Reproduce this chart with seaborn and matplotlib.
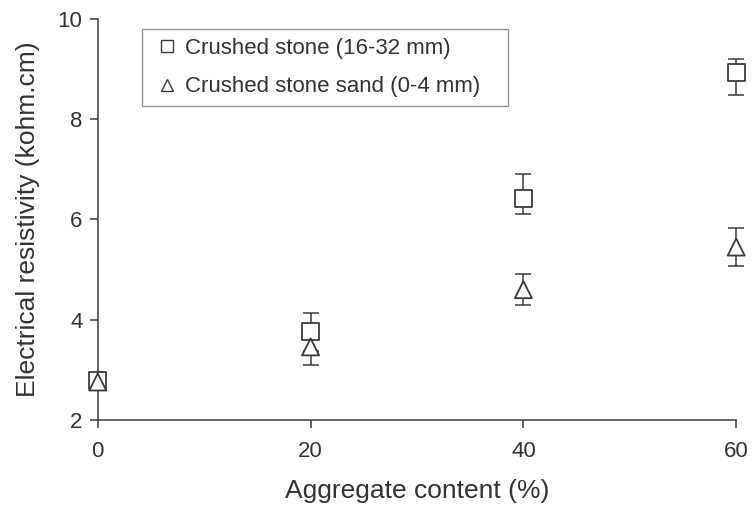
import numpy as np
import pandas as pd
import matplotlib
matplotlib.use("Agg")
import matplotlib.pyplot as plt
import seaborn as sns
from matplotlib.lines import Line2D

# Aggregate content (%)
content = [0, 20, 40, 60]

# Crushed stone (16-32 mm)
stone_mean = [2.78, 3.76, 6.41, 8.93]
stone_err_low = [0.0, 0.38, 0.30, 0.44]
stone_err_high = [0.0, 0.38, 0.50, 0.26]

# Crushed stone sand (0-4 mm)
sand_mean = [2.76, 3.46, 4.60, 5.45]
sand_err_low = [0.0, 0.36, 0.30, 0.38]
sand_err_high = [0.0, 0.30, 0.31, 0.38]

series_names = ["Crushed stone (16-32 mm)", "Crushed stone sand (0-4 mm)"]
x_ticks = [0, 20, 40, 60]
y_ticks = [2, 4, 6, 8, 10]

sns.set_theme(style="ticks")
plt.rcParams["font.family"] = ["Liberation Sans", "DejaVu Sans"]

ink = "#3a3a3a"
text_color = "#333333"

df = pd.DataFrame({
    "content": content * 2,
    "resistivity": stone_mean + sand_mean,
    "series": [series_names[0]] * 4 + [series_names[1]] * 4,
})

fig = plt.figure(figsize=(7.52, 5.08), dpi=100)
ax = fig.add_axes([0.130, 0.173, 0.849, 0.790])

# error bars beneath the markers
for mean, lo, hi in [(stone_mean, stone_err_low, stone_err_high),
                     (sand_mean, sand_err_low, sand_err_high)]:
    lo_a, hi_a = np.array(lo), np.array(hi)
    mask = (lo_a + hi_a) > 0
    eb = ax.errorbar(np.array(content)[mask], np.array(mean)[mask],
                     yerr=[lo_a[mask], hi_a[mask]], fmt="none", ecolor=ink,
                     elinewidth=1.1, capsize=6, capthick=1.1, zorder=1)
    for art in eb.lines[1] + eb.lines[2]:
        art.set_clip_on(False)

sns.scatterplot(data=df, x="content", y="resistivity", style="series",
                markers={series_names[0]: "s", series_names[1]: "^"},
                s=150, facecolor="white", edgecolor=ink, linewidth=1.3,
                color="white", legend=False, ax=ax, zorder=3, clip_on=False)

ax.set_xlim(0, 60)
ax.set_ylim(2, 10)
ax.set_xticks(x_ticks)
ax.set_yticks(y_ticks)
ax.set_xlabel("Aggregate content (%)", fontsize=19, color=text_color, labelpad=12)
ax.set_ylabel("Electrical resistivity (kohm.cm)", fontsize=19, color=text_color, labelpad=13)
ax.tick_params(axis="both", labelsize=16, colors=ink, labelcolor=text_color,
               length=6, width=1.1, direction="out", pad=5)
ax.tick_params(axis="x", pad=9)
for side in ["top", "right"]:
    ax.spines[side].set_visible(False)
for side in ["left", "bottom"]:
    ax.spines[side].set_color(ink)
    ax.spines[side].set_linewidth(1.1)

handles = [
    Line2D([], [], linestyle="none", marker="s", markersize=9, markerfacecolor="white",
           markeredgecolor=ink, markeredgewidth=1.0, label=series_names[0]),
    Line2D([], [], linestyle="none", marker="^", markersize=9, markerfacecolor="white",
           markeredgecolor=ink, markeredgewidth=1.0, label=series_names[1]),
]
leg = ax.legend(handles=handles, loc="upper left", bbox_to_anchor=(0.069, 0.0, 0.574, 0.975),
                mode="expand", fontsize=16, frameon=True, fancybox=False, handlelength=1.45,
                handletextpad=0.1, borderpad=0.4, labelspacing=0.8, borderaxespad=0)
leg.get_frame().set_edgecolor("#777777")
leg.get_frame().set_linewidth(1.0)
for t in leg.get_texts():
    t.set_color(text_color)

fig.savefig("out.png", dpi=100)
